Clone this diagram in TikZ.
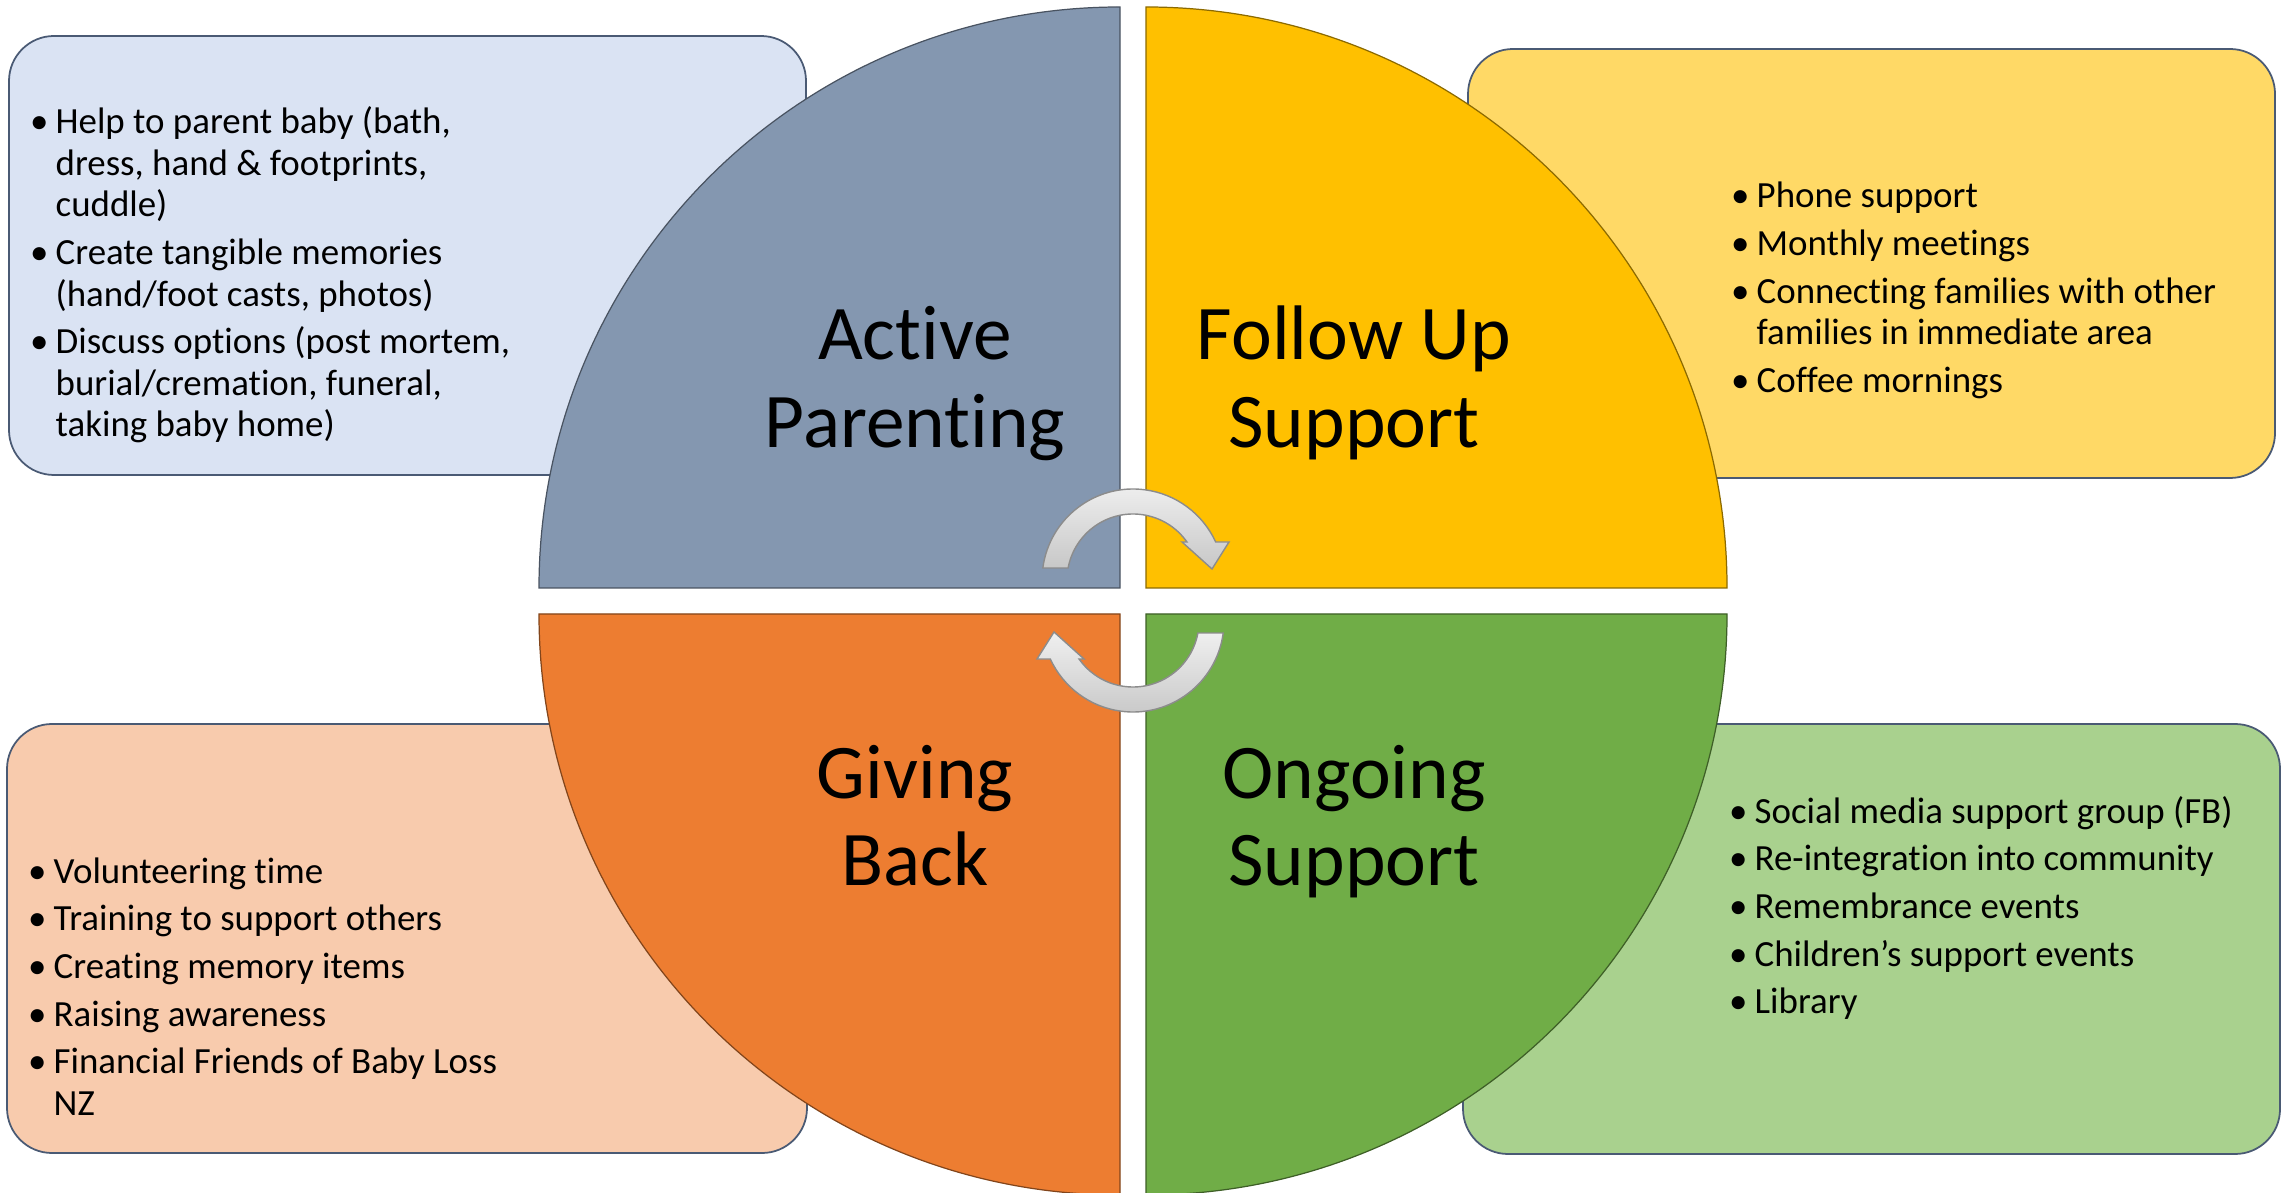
\documentclass[tikz,border=0pt]{standalone}
\usepackage{fontspec}
\setmainfont{Carlito}[Ligatures={TeX,NoCommon}]
\usepackage{xcolor}
\usepackage{tikz}

\definecolor{parentblue}{HTML}{8497B0}
\definecolor{parentbox}{HTML}{DAE3F3}
\definecolor{followgold}{HTML}{FFC000}
\definecolor{followbox}{HTML}{FFD966}
\definecolor{givingorange}{HTML}{ED7D31}
\definecolor{givingbox}{HTML}{F8CBAD}
\definecolor{ongoinggreen}{HTML}{70AD47}
\definecolor{ongoingbox}{HTML}{A9D18E}
\definecolor{panelline}{HTML}{4A5A74}

% bullet and continuation line for the lists
\newcommand{\bullitem}{\makebox[7.3pt][l]{\textbullet}}
\newcommand{\contline}{\hspace*{7.3pt}}

\begin{document}
\begin{tikzpicture}[
    panel/.style={fill=#1, draw=panelline, line width=0.5pt, rounded corners=0.45cm},
    quad/.style={fill=#1, draw=#1!55!black, line width=0.35pt},
    heading/.style={font=\fontsize{22}{25}\selectfont, inner sep=0pt, anchor=base},
    bullets/.style={font=\fontsize{10.5}{11.8}\selectfont, inner sep=0pt, anchor=base west},
    cycarrow/.style={top color=black!6, bottom color=black!22, draw=black!45, line width=0.4pt}
]
\useasboundingbox (0,0) rectangle (22.90,11.92);

% side panels, behind the quarter discs
\draw[panel=parentbox] (0.09,7.17) rectangle (8.06,11.56);
\draw[panel=followbox] (14.68,7.14) rectangle (22.75,11.43);
\draw[panel=givingbox] (0.07,0.39) rectangle (8.07,4.68);
\draw[panel=ongoingbox] (14.63,0.38) rectangle (22.80,4.68);

% quarter discs
\draw[quad=parentblue] (11.20,6.04) -- ++(0,5.81) arc[start angle=90, end angle=180, radius=5.81] -- cycle;
\draw[quad=followgold] (11.46,6.04) -- ++(5.81,0) arc[start angle=0, end angle=90, radius=5.81] -- cycle;
\draw[quad=givingorange] (11.20,5.78) -- ++(-5.81,0) arc[start angle=180, end angle=270, radius=5.81] -- cycle;
\draw[quad=ongoinggreen] (11.46,5.78) -- ++(0,-5.81) arc[start angle=270, end angle=360, radius=5.81] -- cycle;

% the two curved arrows in the middle
\foreach \a in {0,180}
  \draw[cycarrow, rotate around={\a:(11.33,5.915)}, shift={(11.33,6.12)}]
    (172.4:0.91) arc[start angle=172.4, end angle=24.7, radius=0.91]
    -- (0.96,0.38) -- (0.79,0.11) -- (0.49,0.38)
    -- (35.2:0.66) arc[start angle=35.2, end angle=169.5, radius=0.66] -- cycle;

% headings
\node[heading] (active) at (9.15,8.32) {\begin{tabular}[t]{@{}c@{}}Active\\Parenting\end{tabular}};
\node[heading] (follow) at (13.54,8.32) {\begin{tabular}[t]{@{}c@{}}Follow Up\\Support\end{tabular}};
\node[heading] (giving) at (9.15,3.94) {\begin{tabular}[t]{@{}c@{}}Giving\\Back\end{tabular}};
\node[heading] (ongoing) at (13.54,3.94) {\begin{tabular}[t]{@{}c@{}}Ongoing\\Support\end{tabular}};

% lists
\node[bullets] (parentlist) at (0.293,10.58) {\begin{tabular}[t]{@{}l@{}}
\bullitem Help to parent baby (bath,\\
\contline dress, hand \& footprints,\\
\contline cuddle)\\[1.77pt]
\bullitem Create tangible memories\\
\contline (hand/foot casts, photos)\\[1.77pt]
\bullitem Discuss options (post mortem,\\
\contline burial/cremation, funeral,\\
\contline taking baby home)
\end{tabular}};

\node[bullets] (followlist) at (17.303,9.84) {\begin{tabular}[t]{@{}l@{}}
\bullitem Phone support\\[1.77pt]
\bullitem Monthly meetings\\[1.77pt]
\bullitem Connecting families with other\\
\contline families in immediate area\\[1.77pt]
\bullitem Coffee mornings
\end{tabular}};

\node[bullets] (givinglist) at (0.273,3.09) {\begin{tabular}[t]{@{}l@{}}
\bullitem Volunteering time\\[1.77pt]
\bullitem Training to support others\\[1.77pt]
\bullitem Creating memory items\\[1.77pt]
\bullitem Raising awareness\\[1.77pt]
\bullitem Financial Friends of Baby Loss\\
\contline NZ
\end{tabular}};

\node[bullets] (ongoinglist) at (17.283,3.69) {\begin{tabular}[t]{@{}l@{}}
\bullitem Social media support group (FB)\\[1.77pt]
\bullitem Re-integration into community\\[1.77pt]
\bullitem Remembrance events\\[1.77pt]
\bullitem Children’s support events\\[1.77pt]
\bullitem Library
\end{tabular}};
\end{tikzpicture}
\end{document}
